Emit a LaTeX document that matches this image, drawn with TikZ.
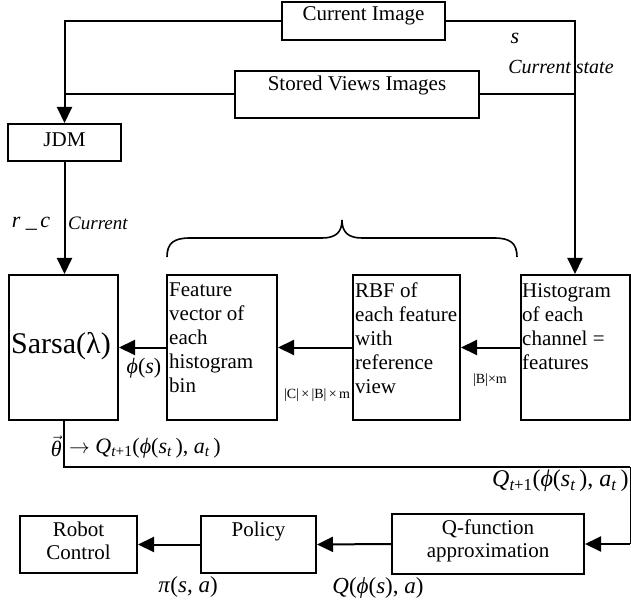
\documentclass[tikz,border=0pt]{standalone}
\usepackage{amsmath}
\usepackage{fontspec}
\setmainfont{Liberation Serif}
\usetikzlibrary{arrows.meta}
\newcommand{\ti}[1]{\text{\itshape #1}}
\begin{document}
\begin{tikzpicture}[x=1pt,y=-1pt,
  box/.style={draw,line width=2pt,inner sep=0pt},
  conn/.style={line width=2pt},
  arr/.style={conn,-{Triangle[length=16pt,width=15pt]}},
  txt/.style={inner sep=0pt,font=\fontsize{21}{23}\selectfont,align=center},
  ltxt/.style={inner sep=0pt,font=\fontsize{21}{24}\selectfont,align=left,anchor=north west},
  lab/.style={inner sep=0pt,font=\fontsize{22}{26}\selectfont},
  slab/.style={inner sep=0pt,font=\fontsize{14}{16}\selectfont},
  ilab/.style={inner sep=0pt,font=\fontsize{20}{24}\selectfont\itshape}
]
\useasboundingbox (0,0) rectangle (631,601);

% boxes
\node[box,minimum width=163pt,minimum height=38pt] (ci) at (363.5,21) {};
\node[box,minimum width=244pt,minimum height=47pt] (sv) at (357,94.5) {};
\node[box,minimum width=113pt,minimum height=37pt] (jdm) at (64.5,142.5) {};
\node[box,minimum width=109pt,minimum height=145pt] (sarsa) at (63.5,347.5) {};
\node[box,minimum width=110pt,minimum height=145pt] (feat) at (222,347.5) {};
\node[box,minimum width=107pt,minimum height=145pt] (rbf) at (406.5,347.5) {};
\node[box,minimum width=109pt,minimum height=145pt] (hist) at (575,347.5) {};
\node[box,minimum width=192pt,minimum height=60pt] (qf) at (488,544) {};
\node[box,minimum width=115pt,minimum height=57pt] (pol) at (258.5,544.5) {};
\node[box,minimum width=117pt,minimum height=57pt] (rc) at (78.5,544.5) {};

% box texts
\node[txt] (cit) at (363.5,16) {Current Image};
\node[txt] (svt) at (357,85) {Stored Views Images};
\node[txt] (jdmt) at (64.5,140) {JDM};
\node[inner sep=0pt,font=\fontsize{30}{34}\selectfont] (sarsat) at (61,346) {Sarsa(λ)};
\node[ltxt] (featt) at (169,283) {Feature\\vector of\\each\\histogram\\bin};
\node[ltxt] (rbft) at (355,283) {RBF of\\each feature\\with\\reference\\view};
\node[ltxt] (histt) at (522,283) {Histogram\\of each\\channel =\\features};
\node[txt] (qft) at (488,541) {Q-function\\approximation};
\node[txt] (polt) at (258.5,531) {Policy};
\node[txt] (rct) at (78.5,541) {Robot\\Control};

% connectors
\coordinate (corner) at (630,467);
\draw[arr] (ci.west) -| (jdm.north);
\draw[conn] (sv.west) -- (sv.west -| jdm.north);
\draw[arr] (ci.east) -| (hist.north);
\draw[conn] (sv.east) -- (sv.east -| hist.north);
\draw[arr] (jdm.south) -- (jdm.south |- sarsa.north);
\draw[arr] (hist.west) -- (rbf.east);
\draw[arr] (rbf.west) -- (feat.east);
\draw[arr] (feat.west) -- (sarsa.east);
\draw[conn] (sarsa.south) |- (corner);
\draw[line width=1pt] (corner) -- (corner |- qf.east);
\draw[arr] (corner |- qf.east) -- (qf.east);
\draw[arr] (qf.west) -- (pol.east);
\draw[arr] (pol.west) -- (rc.east);

% brace
\draw[line width=1.6pt] (167,257) .. controls (167,243) and (174,238) .. (190,238) -- (322,238)
  .. controls (336,238) and (342,232) .. (342,220)
  .. controls (342,232) and (348,238) .. (362,238) -- (494,238)
  .. controls (510,238) and (517,243) .. (517,257);

% labels
\node[lab] (slab) at (515,38) {\textit{s}};
\node[ilab] (cslab) at (561,67) {Current state};
\node[lab] (rclab) at (31,224) {\textit{r \_\,c}};
\node[ilab,anchor=west,font=\fontsize{19}{22}\selectfont\itshape] (curlab) at (68,223) {Current};
\node[lab] (philab) at (144,368) {\textit{ϕ}(\textit{s})};
\node[slab] (cbmlab) at (317,395) {|C|\,×\,|B|\,×\,m};
\node[slab] (bmlab) at (490,380) {|B|×m};
\node[lab,anchor=east] (thlab) at (62,446) {$\vec{\ti{θ}}$};
\node[lab,anchor=west] (updlab) at (69,448) {$\rightarrow$ \textit{Q}$_{\ti{t}\text{+1}}$(\textit{ϕ}(\textit{s}$_{\ti{t}}$\,), \textit{a}$_{\ti{t}}$\,)};
\node[lab,anchor=west,font=\fontsize{24}{28}\selectfont] (qlab) at (492,481) {\textit{Q}$_{\ti{t}\text{+1}}$(\textit{ϕ}(\textit{s}$_{\ti{t}}$\,), \textit{a}$_{\ti{t}}$\,)};
\node[lab,font=\fontsize{23}{27}\selectfont] (pilab) at (188,587) {\textit{π}(\textit{s}, \textit{a})};
\node[lab,font=\fontsize{23}{27}\selectfont] (qalab) at (378,588) {\textit{Q}(\textit{ϕ}(\textit{s}), \textit{a})};
\end{tikzpicture}
\end{document}
